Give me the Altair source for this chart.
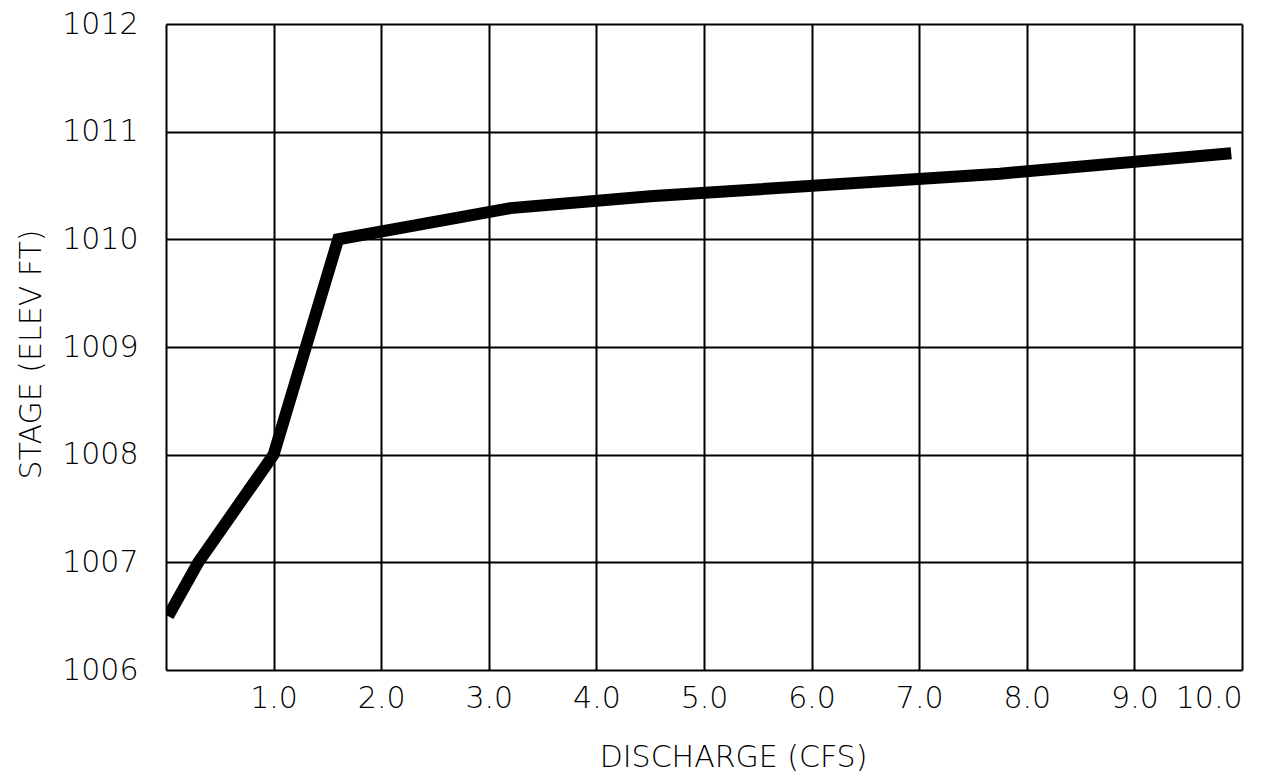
import altair as alt
import pandas as pd

discharge = [0.02, 0.3, 1.0, 1.6, 3.2, 4.5, 7.75, 9.9]
stage = [1006.5, 1007.0, 1008.0, 1010.0, 1010.29, 1010.4, 1010.61, 1010.8]

x_ticks = [0, 1, 2, 3, 4, 5, 6, 7, 8, 9, 10]
y_ticks = [1006, 1007, 1008, 1009, 1010, 1011, 1012]

df = pd.DataFrame({"discharge": discharge, "stage": stage, "order": list(range(len(stage)))})

FONT = "DejaVu Sans"
WEIGHT = 200

chart = alt.Chart(df).mark_line(
    color="black", strokeWidth=12, strokeCap="butt", strokeJoin="miter", clip=True
).encode(
    x=alt.X("discharge:Q",
            scale=alt.Scale(domain=[0, 10], nice=False, zero=False),
            axis=alt.Axis(values=x_ticks, title="DISCHARGE (CFS)",
                          labelExpr="datum.value == 0 ? '' : format(datum.value, '.1f')",
                          labelFont=FONT, labelFontSize=30, labelFontWeight=WEIGHT,
                          labelColor="black",
                          labelPadding=13, ticks=False, domain=False,
                          gridColor="black", gridWidth=2, gridOpacity=1,
                          titleFont=FONT, titleFontSize=30, titleFontWeight=WEIGHT,
                          titleColor="black", titleX=567, titleY=96,
                          titleBaseline="alphabetic", titleAlign="center")),
    y=alt.Y("stage:Q",
            scale=alt.Scale(domain=[1006, 1012], nice=False, zero=False),
            axis=alt.Axis(values=y_ticks, title="STAGE (ELEV FT)", format="d",
                          labelFont=FONT, labelFontSize=30, labelFontWeight=WEIGHT,
                          labelColor="black",
                          labelPadding=28, ticks=False, domain=False,
                          gridColor="black", gridWidth=2, gridOpacity=1,
                          titleFont=FONT, titleFontSize=30, titleFontWeight=WEIGHT,
                          titleColor="black", titleX=-126, titleY=330,
                          titleBaseline="alphabetic", titleAlign="center", titleAngle=-90)),
    order="order:Q",
).properties(
    width=1076, height=646,
    padding={"left": 158, "top": 16, "right": 30, "bottom": 103},
    autosize=alt.AutoSizeParams(type="none"),
).configure_view(
    stroke="black", strokeWidth=2
).configure(background="white")

chart.save("out.html", embed_options={"renderer": "svg", "actions": False})
